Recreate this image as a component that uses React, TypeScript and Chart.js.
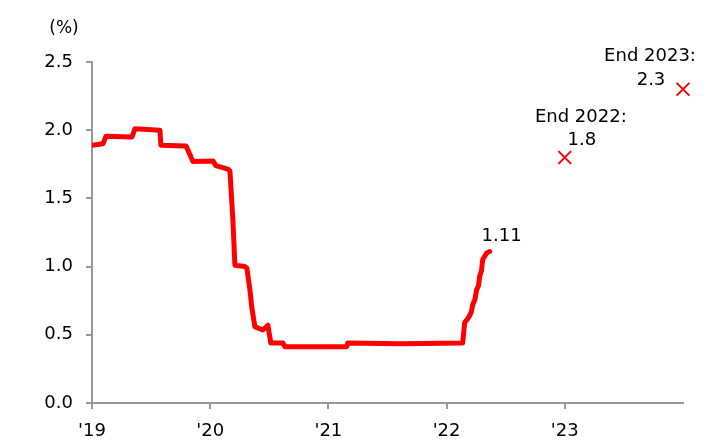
import React, { useEffect, useRef } from 'react';
import { Chart, registerables } from 'chart.js';

Chart.register(...registerables);

// Policy rate path (decimal years, %)
const rateYears = [
  2019.0, 2019.093, 2019.118, 2019.338, 2019.363, 2019.575, 2019.583, 2019.795,
  2019.854, 2020.023, 2020.048, 2020.15, 2020.167, 2020.192, 2020.209, 2020.293,
  2020.31, 2020.336, 2020.352, 2020.378, 2020.445, 2020.488, 2020.513, 2020.615,
  2020.631, 2021.155, 2021.164, 2021.604, 2022.136, 2022.153, 2022.18, 2022.195,
  2022.21, 2022.221, 2022.24, 2022.254, 2022.27, 2022.28, 2022.295, 2022.305,
  2022.339, 2022.364,
];
const rateValues = [
  1.89, 1.9, 1.955, 1.95, 2.01, 2.0, 1.89, 1.885,
  1.77, 1.775, 1.74, 1.715, 1.7, 1.34, 1.01, 1.0,
  0.99, 0.83, 0.7, 0.56, 0.535, 0.57, 0.44, 0.44,
  0.413, 0.413, 0.44, 0.435, 0.44, 0.59, 0.62, 0.64,
  0.67, 0.72, 0.76, 0.83, 0.86, 0.93, 0.97, 1.05,
  1.1, 1.11,
];
const lastLabel = '1.11';

// Forecast markers
const forecastYears = [2023, 2024];
const forecastValues = [1.8, 2.3];
const forecastTitles = ['End 2022:', 'End 2023:'];
const forecastTexts = ['1.8', '2.3'];

// Axes
const xTickYears = [2019, 2020, 2021, 2022, 2023];
const xTickLabels = ["'19", "'20", "'21", "'22", "'23"];
const yUnit = '(%)';

const FONT = '"DejaVu Sans", sans-serif';

// label placement relative to each forecast marker (pixels)
const labelPlacement = [
  { tx: 16, ty: -40, vx: 17, vy: -17 },
  { tx: -33, ty: -33, vx: -32, vy: -9 },
];

export default function App() {
  const ref = useRef<HTMLCanvasElement>(null);

  useEffect(() => {
    const canvas = ref.current;
    if (!canvas) return;

    const annot = {
      id: 'annot',
      afterDatasetsDraw(chart: any) {
        const ctx = chart.ctx;
        const xs = chart.scales.x;
        const ys = chart.scales.y;
        ctx.save();
        ctx.fillStyle = '#000';
        ctx.font = `18px ${FONT}`;
        ctx.textAlign = 'center';
        ctx.textBaseline = 'middle';
        const lx = xs.getPixelForValue(rateYears[rateYears.length - 1]);
        const ly = ys.getPixelForValue(rateValues[rateValues.length - 1]);
        ctx.fillText(lastLabel, lx + 12, ly - 15);
        forecastYears.forEach((yr, i) => {
          const px = xs.getPixelForValue(yr);
          const py = ys.getPixelForValue(forecastValues[i]);
          const p = labelPlacement[i];
          ctx.fillText(forecastTitles[i], px + p.tx, py + p.ty);
          ctx.fillText(forecastTexts[i], px + p.vx, py + p.vy);
        });
        ctx.font = `17px ${FONT}`;
        ctx.fillText(yUnit, 64, 29);
        ctx.restore();
      },
    };

    const chart = new Chart(canvas, {
      type: 'scatter',
      data: {
        datasets: [
          {
            type: 'line',
            data: rateYears.map((x, i) => ({ x, y: rateValues[i] })),
            borderColor: '#ff0000',
            borderWidth: 5,
            pointRadius: 0,
            fill: false,
            tension: 0,
            borderJoinStyle: 'round',
            borderCapStyle: 'round',
          } as any,
          {
            data: forecastYears.map((x, i) => ({ x, y: forecastValues[i] })),
            pointStyle: 'crossRot',
            pointRadius: 9,
            pointBorderWidth: 2,
            borderColor: '#ff0000',
            backgroundColor: '#ff0000',
            clip: false,
          } as any,
        ],
      },
      options: {
        responsive: false,
        animation: false,
        layout: { padding: { top: 62, right: 35, left: 0, bottom: 0 } },
        plugins: {
          legend: { display: false },
          tooltip: { enabled: false },
        },
        scales: {
          x: {
            type: 'linear',
            min: 2019,
            max: 2024,
            afterBuildTicks: (scale: any) => {
              scale.ticks = xTickYears.map((v) => ({ value: v }));
            },
            afterFit: (scale: any) => {
              scale.height = 41;
            },
            ticks: {
              callback: (v: any) => {
                const idx = xTickYears.indexOf(Number(v));
                return idx >= 0 ? xTickLabels[idx] : '';
              },
              color: '#000',
              font: { family: FONT, size: 18 },
              padding: 12,
              maxRotation: 0,
              autoSkip: false,
            },
            grid: {
              drawOnChartArea: false,
              drawTicks: true,
              tickLength: 6,
              color: '#999',
              lineWidth: 2,
            },
            border: { display: true, color: '#999', width: 2 },
          },
          y: {
            min: 0,
            max: 2.5,
            afterFit: (scale: any) => {
              scale.width = 92;
            },
            ticks: {
              stepSize: 0.5,
              callback: (v: any) => Number(v).toFixed(1),
              color: '#000',
              font: { family: FONT, size: 18 },
              padding: 13,
            },
            grid: {
              drawOnChartArea: false,
              drawTicks: true,
              tickLength: 6,
              color: '#999',
              lineWidth: 2,
            },
            border: { display: true, color: '#999', width: 2 },
          },
        },
      } as any,
      plugins: [annot],
    });

    return () => chart.destroy();
  }, []);

  return (
    <div style={{ position: 'absolute', left: 0, top: 0, width: 718, height: 444, background: '#fff' }}>
      <canvas ref={ref} width={718} height={444} />
    </div>
  );
}
